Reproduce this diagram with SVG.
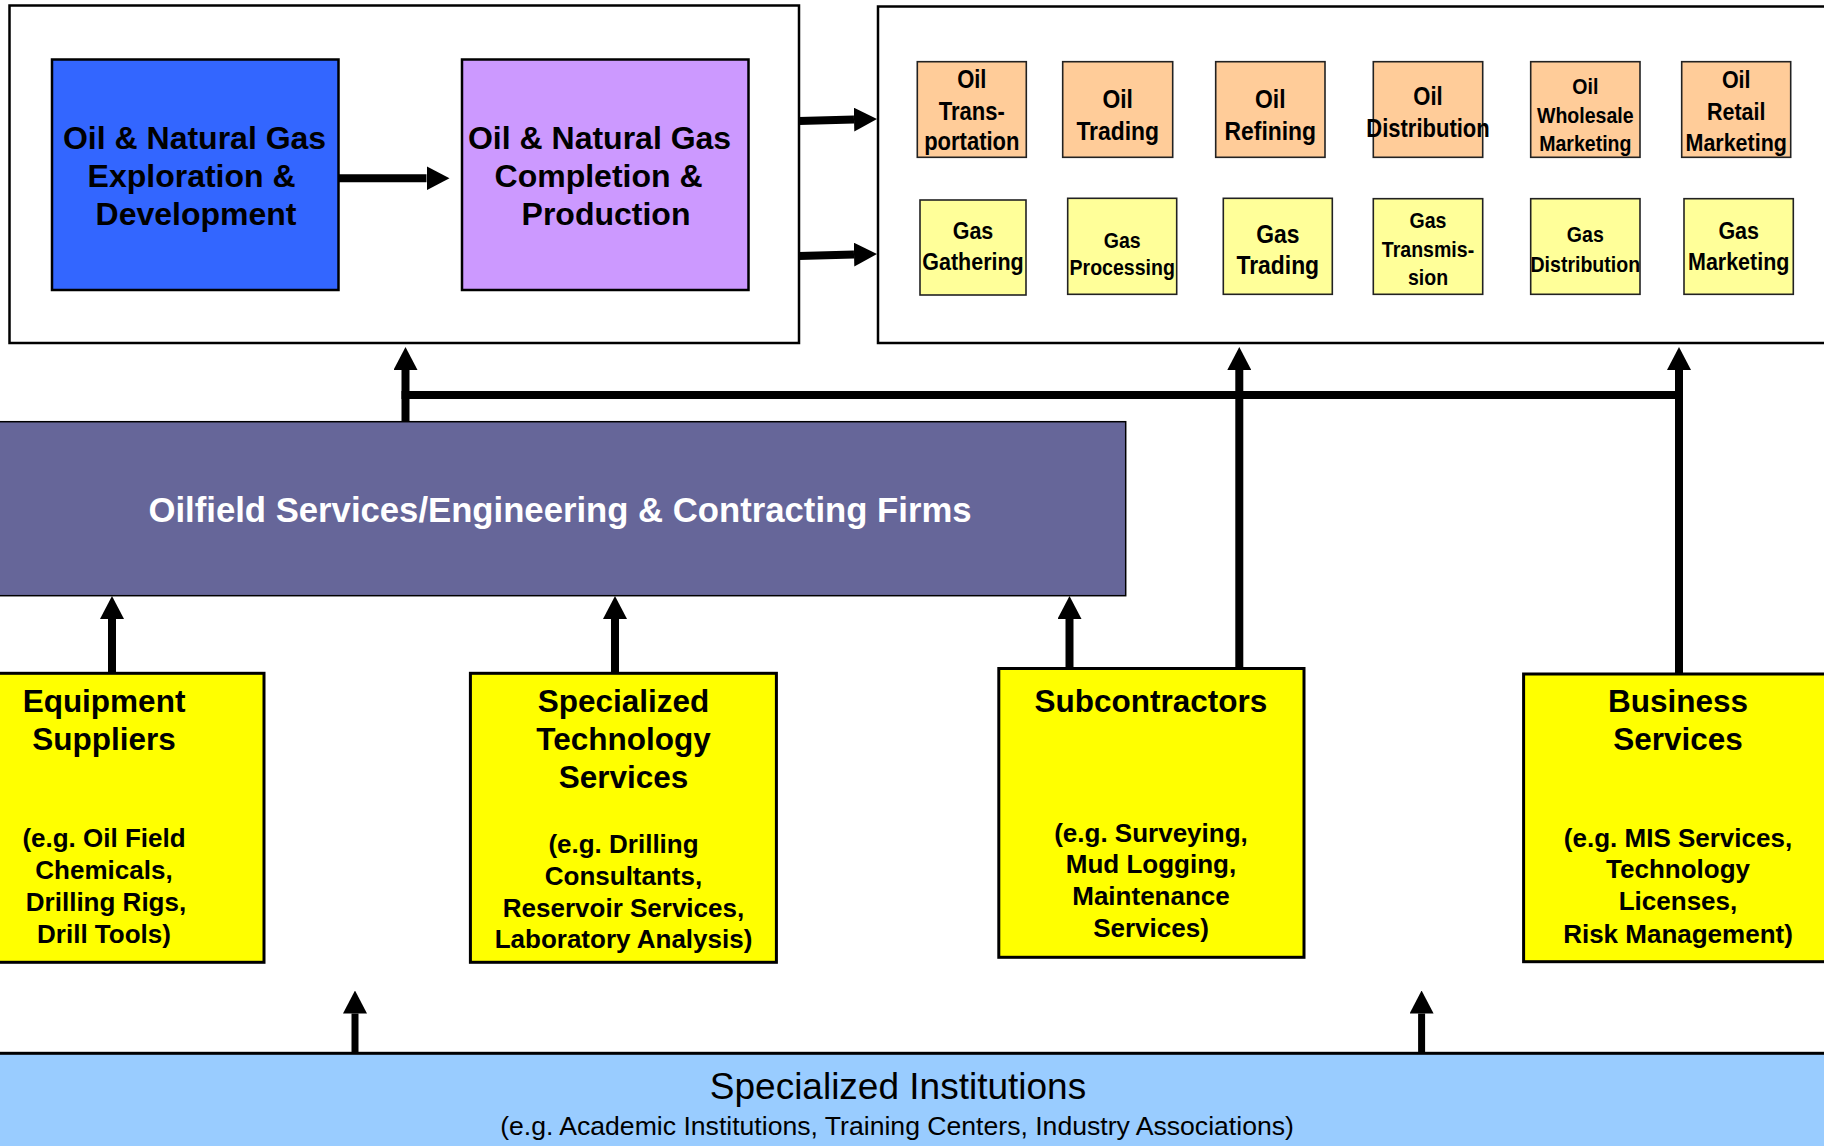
<svg xmlns="http://www.w3.org/2000/svg" width="1824" height="1146" viewBox="0 0 1824 1146">
  <defs>
    <style>
      .frame { fill: #ffffff; stroke: #000000; stroke-width: 2.5; }
      .box { stroke: #000000; stroke-width: 2.5; }
      .oil { fill: #FFCC99; stroke: #222222; stroke-width: 1.6; }
      .gas { fill: #FFFF99; stroke: #222222; stroke-width: 1.6; }
      .sup { fill: #FFFF00; stroke: #000000; stroke-width: 3; }
      .t { font-family: "Liberation Sans", Arial, Helvetica, sans-serif; font-weight: bold; text-anchor: middle; fill: #000000; }
      .big { font-size: 32px; }
      .title { font-size: 31.5px; }
      .eg { font-size: 26px; }
      .inst { font-family: "Liberation Sans", Arial, Helvetica, sans-serif; text-anchor: middle; fill: #000000; }
      .shaft { stroke: #000000; stroke-width: 8; fill: none; marker-end: url(#head); }
      .bus { stroke: #000000; stroke-width: 8; fill: none; }
    </style>
    <marker id="head" markerUnits="userSpaceOnUse" viewBox="0 0 23 24" markerWidth="23" markerHeight="24" refX="0" refY="12" orient="auto">
      <path d="M0,0 L23,12 L0,24 Z" fill="#000000"/>
    </marker>
  </defs>

  <rect width="1824" height="1146" fill="#ffffff"/>

  <!-- upstream frame -->
  <g id="upstream-frame">
    <rect class="frame" x="9.5" y="5.5" width="789.5" height="337.5"/>
  </g>

  <g id="exploration">
    <rect class="box" x="52" y="59.5" width="286.5" height="230.5" fill="#3366FF"/>
    <text class="t big">
      <tspan x="199" y="149">Oil &amp; Natural Gas</tspan>
      <tspan x="196" y="187.3">Exploration &amp;</tspan>
      <tspan x="196" y="225">Development</tspan>
    </text>
  </g>

  <g id="production">
    <rect class="box" x="462" y="59.5" width="286.5" height="230.5" fill="#CC99FF"/>
    <text class="t big">
      <tspan x="604" y="148.5">Oil &amp; Natural Gas</tspan>
      <tspan x="603" y="186.7">Completion &amp;</tspan>
      <tspan x="606" y="225">Production</tspan>
    </text>
  </g>

  <!-- midstream / downstream frame -->
  <g id="downstream-frame">
    <rect class="frame" x="878" y="6.5" width="960" height="336.5"/>
  </g>

  <!-- small segment boxes: narrow lettering, condensed horizontally -->
  <g id="oil-transportation">
    <rect class="oil" x="917.3" y="61.7" width="109" height="95.6"/>
    <g transform="translate(971.8 0) scale(0.88 1)">
      <text class="t" font-size="25"><tspan x="0" y="88">Oil</tspan><tspan x="0" y="120">Trans-</tspan><tspan x="0" y="150">portation</tspan></text>
    </g>
  </g>
  <g id="oil-trading">
    <rect class="oil" x="1062.7" y="61.7" width="110" height="95.6"/>
    <g transform="translate(1117.7 0) scale(0.88 1)">
      <text class="t" font-size="26"><tspan x="0" y="108.3">Oil</tspan><tspan x="0" y="140">Trading</tspan></text>
    </g>
  </g>
  <g id="oil-refining">
    <rect class="oil" x="1215.7" y="61.7" width="109.3" height="95.6"/>
    <g transform="translate(1270.3 0) scale(0.88 1)">
      <text class="t" font-size="26"><tspan x="0" y="108.3">Oil</tspan><tspan x="0" y="140">Refining</tspan></text>
    </g>
  </g>
  <g id="oil-distribution">
    <rect class="oil" x="1373.3" y="61.7" width="109.4" height="95.6"/>
    <g transform="translate(1428 0) scale(0.88 1)">
      <text class="t" font-size="25"><tspan x="0" y="105">Oil</tspan><tspan x="0" y="137.3">Distribution</tspan></text>
    </g>
  </g>
  <g id="oil-wholesale">
    <rect class="oil" x="1530.7" y="61.7" width="109.3" height="95.6"/>
    <g transform="translate(1585.3 0) scale(0.88 1)">
      <text class="t" font-size="22.2"><tspan x="0" y="94">Oil</tspan><tspan x="0" y="122.7">Wholesale</tspan><tspan x="0" y="151">Marketing</tspan></text>
    </g>
  </g>
  <g id="oil-retail">
    <rect class="oil" x="1681.7" y="61.7" width="109" height="95.6"/>
    <g transform="translate(1736.2 0) scale(0.88 1)">
      <text class="t" font-size="24.4"><tspan x="0" y="88.3">Oil</tspan><tspan x="0" y="120">Retail</tspan><tspan x="0" y="151.5">Marketing</tspan></text>
    </g>
  </g>

  <g id="gas-gathering">
    <rect class="gas" x="920" y="200" width="106" height="95"/>
    <g transform="translate(973 0) scale(0.88 1)">
      <text class="t" font-size="24.4"><tspan x="0" y="239.5">Gas</tspan><tspan x="0" y="270.5">Gathering</tspan></text>
    </g>
  </g>
  <g id="gas-processing">
    <rect class="gas" x="1067.7" y="198.3" width="109" height="96"/>
    <g transform="translate(1122.2 0) scale(0.88 1)">
      <text class="t" font-size="22.2"><tspan x="0" y="248">Gas</tspan><tspan x="0" y="275">Processing</tspan></text>
    </g>
  </g>
  <g id="gas-trading">
    <rect class="gas" x="1223.3" y="198.3" width="109" height="96"/>
    <g transform="translate(1277.8 0) scale(0.88 1)">
      <text class="t" font-size="26"><tspan x="0" y="243">Gas</tspan><tspan x="0" y="274">Trading</tspan></text>
    </g>
  </g>
  <g id="gas-transmission">
    <rect class="gas" x="1373.3" y="198.7" width="109.4" height="95.6"/>
    <g transform="translate(1428 0) scale(0.88 1)">
      <text class="t" font-size="22.2"><tspan x="0" y="228.3">Gas</tspan><tspan x="0" y="256.7">Transmis-</tspan><tspan x="0" y="285.5">sion</tspan></text>
    </g>
  </g>
  <g id="gas-distribution">
    <rect class="gas" x="1530.7" y="198.7" width="109.3" height="95.6"/>
    <g transform="translate(1585.3 0) scale(0.88 1)">
      <text class="t" font-size="22.2"><tspan x="0" y="242">Gas</tspan><tspan x="0" y="271.7">Distribution</tspan></text>
    </g>
  </g>
  <g id="gas-marketing">
    <rect class="gas" x="1684" y="198.7" width="109.3" height="95.6"/>
    <g transform="translate(1738.7 0) scale(0.88 1)">
      <text class="t" font-size="24.4"><tspan x="0" y="239.3">Gas</tspan><tspan x="0" y="270">Marketing</tspan></text>
    </g>
  </g>

  <g id="oilfield-services">
    <rect x="-4" y="421.7" width="1129.7" height="174" fill="#666699" stroke="#000000" stroke-width="1.5"/>
    <text class="t" x="560" y="521.7" font-size="34.7" style="fill:#ffffff">Oilfield Services/Engineering &amp; Contracting Firms</text>
  </g>

  <g id="equipment-suppliers">
    <rect class="sup" x="-56" y="673.3" width="320" height="289"/>
    <text class="t title"><tspan x="104" y="711.7">Equipment</tspan><tspan x="104" y="750">Suppliers</tspan></text>
    <text class="t eg"><tspan x="104" y="847.3">(e.g. Oil Field</tspan><tspan x="104" y="879">Chemicals,</tspan><tspan x="106" y="910.7">Drilling Rigs,</tspan><tspan x="104" y="942.7">Drill Tools)</tspan></text>
  </g>

  <g id="technology-services">
    <rect class="sup" x="470.4" y="673.3" width="306" height="289"/>
    <text class="t title"><tspan x="623.5" y="711.7">Specialized</tspan><tspan x="623.5" y="750">Technology</tspan><tspan x="623.5" y="788.3">Services</tspan></text>
    <text class="t eg"><tspan x="623.5" y="853.3">(e.g. Drilling</tspan><tspan x="623.5" y="885">Consultants,</tspan><tspan x="623.5" y="916.7">Reservoir Services,</tspan><tspan x="623.5" y="948.3">Laboratory Analysis)</tspan></text>
  </g>

  <g id="subcontractors">
    <rect class="sup" x="998.8" y="668.5" width="305.2" height="288.8"/>
    <text class="t title"><tspan x="1151" y="711.7">Subcontractors</tspan></text>
    <text class="t eg"><tspan x="1151" y="841.7">(e.g. Surveying,</tspan><tspan x="1151" y="873.3">Mud Logging,</tspan><tspan x="1151" y="905">Maintenance</tspan><tspan x="1151" y="936.7">Services)</tspan></text>
  </g>

  <g id="business-services">
    <rect class="sup" x="1523.6" y="674" width="310" height="287.7"/>
    <text class="t title"><tspan x="1678" y="711.7">Business</tspan><tspan x="1678" y="750">Services</tspan></text>
    <text class="t eg"><tspan x="1678" y="846.7">(e.g. MIS Services,</tspan><tspan x="1678" y="878.3">Technology</tspan><tspan x="1678" y="910">Licenses,</tspan><tspan x="1678" y="942.7">Risk Management)</tspan></text>
  </g>

  <g id="specialized-institutions">
    <rect x="-5" y="1053.3" width="1834" height="100" fill="#99CCFF" stroke="#000000" stroke-width="3"/>
    <text class="inst" x="898" y="1099.3" font-size="37">Specialized Institutions</text>
    <text class="inst" x="897" y="1135" font-size="26.6">(e.g. Academic Institutions, Training Centers, Industry Associations)</text>
  </g>

  <!-- connectors -->
  <g id="connectors">
    <line class="shaft" x1="339" y1="178.3" x2="426.5" y2="178.3"/>
    <line class="shaft" x1="799" y1="121" x2="854" y2="119.6"/>
    <line class="shaft" x1="799" y1="256" x2="854" y2="254.6"/>

    <line class="shaft" x1="405.5" y1="421.7" x2="405.5" y2="370"/>
    <line class="bus" x1="401.5" y1="395" x2="1683" y2="395"/>
    <line class="shaft" x1="1239.3" y1="668.5" x2="1239.3" y2="370"/>
    <line class="shaft" x1="1679" y1="674" x2="1679" y2="370"/>

    <line class="shaft" x1="112" y1="673.3" x2="112" y2="619"/>
    <line class="shaft" x1="615" y1="673.3" x2="615" y2="619"/>
    <line class="shaft" x1="1069.5" y1="668.5" x2="1069.5" y2="619"/>

    <line class="shaft" style="stroke-width:7" x1="355" y1="1053.3" x2="355" y2="1013.5"/>
    <line class="shaft" style="stroke-width:7" x1="1421.6" y1="1053.3" x2="1421.6" y2="1013.5"/>
  </g>
</svg>
